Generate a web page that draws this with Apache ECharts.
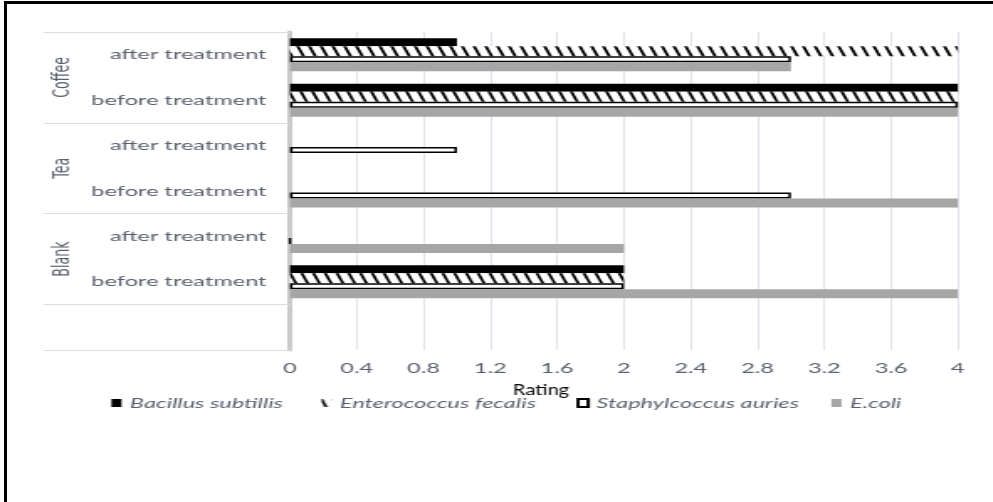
<!DOCTYPE html>
<html>
<head>
<meta charset="utf-8">
<script src="https://cdn.jsdelivr.net/npm/echarts@6/dist/echarts.min.js"></script>
<style>
  html, body { margin: 0; padding: 0; background: #fff; overflow: hidden; }
  #chart { position: absolute; left: 0; top: 0; height: 502px; transform-origin: 0 0; }
  #frame { position: absolute; left: 4px; top: 1px; width: 989px; height: 501px;
           border-top: 3px solid #000; border-left: 3px solid #000; box-sizing: border-box; pointer-events: none; }
</style>
</head>
<body>
<div id="chart"></div>
<div id="frame"></div>
<script>
// The whole chart is laid out narrow and widened horizontally, like the wide-set lettering of the original figure.
const STRETCH = 1.68;

// Rows from the bottom of the axis upward: a blank spacer row, then before/after for each beverage.
const rowGroups  = ['', 'Blank', 'Blank', 'Tea', 'Tea', 'Coffee', 'Coffee'];
const rowLabels  = ['', 'before treatment', 'after treatment', 'before treatment', 'after treatment', 'before treatment', 'after treatment'];
const seriesNames = ['Bacillus subtillis', 'Enterococcus fecalis', 'Staphylcoccus auries', 'E.coli'];

// Rating per organism, same row order as above
const bacillus       = [null, 2, 0, 0, 0, 4, 1];
const enterococcus   = [null, 2, 0, 0, 0, 4, 4];
const staphylococcus = [null, 2, 0, 3, 1, 4, 3];
const ecoli          = [null, 4, 2, 4, 0, 4, 3];

const xMin = 0, xMax = 4, xStep = 0.4;
const axisTitle = 'Rating';

// Left edge (page pixels) of each legend entry
const legendLeft = [103, 313, 568, 823];

const chartEl = document.getElementById('chart');
chartEl.style.width = (993 / STRETCH) + 'px';
chartEl.style.transform = 'scaleX(' + STRETCH + ')';

// Unique keys for the category axis; only the treatment part is shown.
const rowKeys = rowGroups.map((g, i) => g + '|' + rowLabels[i]);

// Group spans on a 0..N scale matching the category bands.
const groupNames = [];
const groupCenters = [];
const groupBounds = [0];
rowGroups.forEach((g, i) => {
  if (!g) { if (i === 0) groupBounds.push(1); return; }
  if (groupNames[groupNames.length - 1] !== g) { groupNames.push(g); groupCenters.push(i); }
  if (rowGroups[i + 1] !== g) {
    groupBounds.push(i + 1);
    groupCenters[groupCenters.length - 1] = (groupCenters[groupCenters.length - 1] + i + 1) / 2;
  }
});

function hatchPattern() {
  const c = document.createElement('canvas');
  c.width = 7; c.height = 20;
  const g = c.getContext('2d');
  g.fillStyle = '#ffffff';
  g.fillRect(0, 0, 7, 20);
  g.strokeStyle = '#000000';
  g.lineWidth = 1.8;
  g.beginPath();
  [-7, 0, 7].forEach(a => { g.moveTo(a, 0); g.lineTo(a + 7, 20); });
  g.stroke();
  return c;
}

const labelColor = '#595f6d';
const font = 'Lato, "Open Sans", sans-serif';
const narrowFont = '"Liberation Sans Narrow", "DejaVu Sans Condensed", Lato, sans-serif';

const legends = seriesNames.map((name, i) => ({
  data: [name],
  left: legendLeft[i] / STRETCH,
  top: 391,
  icon: 'rect',
  itemWidth: 6,
  itemHeight: 8,
  textStyle: { fontFamily: font, fontStyle: 'italic', fontSize: 14, color: labelColor }
}));

const chart = echarts.init(chartEl, null, { renderer: 'canvas' });
chart.setOption({
  animation: false,
  backgroundColor: '#ffffff',
  grid: { left: 290 / STRETCH, right: (993 - 958) / STRETCH, top: 32, bottom: 152 },
  legend: legends,
  xAxis: {
    type: 'value',
    min: xMin, max: xMax, interval: xStep,
    axisLine: { show: false },
    axisTick: { show: false },
    splitLine: { lineStyle: { color: '#dfe3ea', width: 1 } },
    axisLabel: { margin: 11, fontSize: 14, fontFamily: font, color: labelColor }
  },
  yAxis: [
    {
      type: 'category',
      data: rowKeys,
      axisTick: { show: false },
      axisLine: { lineStyle: { color: '#cbcbcb', width: 3 } },
      axisLabel: {
        formatter: v => v.split('|')[1],
        margin: 14, fontSize: 14, fontFamily: font, color: labelColor
      }
    },
    {
      type: 'value',
      min: 0, max: rowKeys.length,
      position: 'left',
      axisLine: { show: false },
      splitLine: { show: false },
      axisTick: { show: true, customValues: groupBounds, length: 147, lineStyle: { color: '#d9dde6', width: 1.2 } },
      axisLabel: {
        customValues: groupCenters,
        formatter: v => groupNames[groupCenters.indexOf(v)] || '',
        rotate: 90, margin: 128, fontSize: 14, fontFamily: narrowFont, color: labelColor
      }
    }
  ],
  graphic: [{
    type: 'text',
    x: 513 / STRETCH, y: 382,
    scaleX: 1.25 / STRETCH,
    style: { text: axisTitle, fill: '#000', font: '16px Lato, sans-serif', verticalAlign: 'top' }
  }],
  series: [
    { name: seriesNames[0], type: 'bar', data: bacillus, barWidth: 8, barGap: 0,
      itemStyle: { color: '#000000' } },
    { name: seriesNames[1], type: 'bar', data: enterococcus, barWidth: 10, barGap: 0,
      itemStyle: { color: { image: hatchPattern(), repeat: 'repeat' } } },
    { name: seriesNames[2], type: 'bar', data: staphylococcus, barWidth: 6, barGap: 0,
      itemStyle: { color: '#ffffff', borderColor: '#000000', borderWidth: 1.5 } },
    { name: seriesNames[3], type: 'bar', data: ecoli, barWidth: 9, barGap: 0,
      itemStyle: { color: '#a6a6a6' } }
  ]
});
</script>
</body>
</html>
